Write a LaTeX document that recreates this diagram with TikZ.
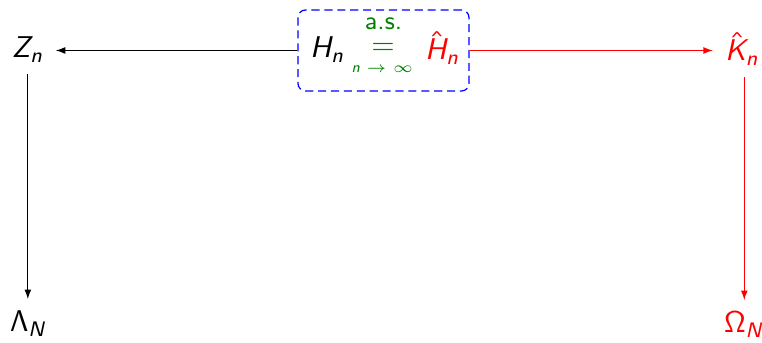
\documentclass[tikz,border=0pt]{standalone}
\usetikzlibrary{arrows.meta}
\SetSymbolFont{operators}{normal}{OT1}{cmss}{m}{n}
\SetSymbolFont{letters}{normal}{OT1}{cmss}{m}{sl}
\DeclareMathSizes{10}{10}{7.5}{6}
\definecolor{asgreen}{rgb}{0,0.5,0}
\begin{document}
\begin{tikzpicture}[x=0.33333pt,y=-0.33333pt,
  lbl/.style={font=\fontsize{10}{12}\selectfont, inner sep=0pt, outer sep=4pt, anchor=base west},
  part/.style={inner sep=0pt, anchor=base},
  arr/.style={-{Latex[length=3.2pt,width=2.3pt]}, line width=0.4pt},
  eqbox/.style={draw=blue, dash pattern=on 2.7pt off 1.6pt, rounded corners=2.5pt,
    minimum width=57pt, minimum height=27pt, inner sep=0pt}]
\useasboundingbox (0,0) rectangle (762,343);
% outer nodes (x = left edge of text minus 12px outer sep)
\node[lbl] (z) at (0,58) {$Z_n$};
\node[lbl] (l) at (-2,332) {$\Lambda_N$};
\node[lbl,text=red] (k) at (713,61) {$\hat{K}_n$};
\node[lbl,text=red] (o) at (712,333) {$\Omega_N$};
% dashed box and its contents
\node[eqbox] (h) at (383.5,50.5) {};
\node[lbl] (hn) at (298,58) {$H_n$};
\node[lbl,text=red] (hh) at (413,60) {$\hat{H}_n$};
\node[part,font=\fontsize{10}{12}\selectfont,text=asgreen] (eq) at (383,55) {$=$};
\node[part,font=\fontsize{8.5}{10}\selectfont\sffamily,text=asgreen] (as) at (383.5,30) {a.s.};
\node[part,font=\fontsize{6}{7}\selectfont,text=asgreen] (lim) at (382.5,73) {$\scriptscriptstyle n\;\to\;\infty$};
% connectors
\draw[arr] (h.west) -- (z.east |- h.west);
\draw[arr,red] (h.east) -- (k.west |- h.east);
\draw[arr] (z.south) -- (z.south |- l.north);
\draw[arr,red] (k.south -| o) -- (o.north);
\end{tikzpicture}
\end{document}
